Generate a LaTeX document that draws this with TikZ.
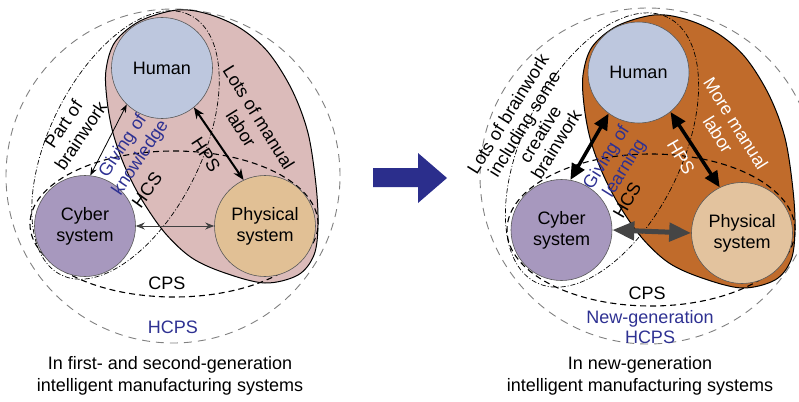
\documentclass[tikz,border=0pt]{standalone}
\usepackage{fontspec}
\setmainfont{Liberation Sans}
\usetikzlibrary{arrows.meta}
\definecolor{pinkfill}{HTML}{DBBBBA}
\definecolor{humfill}{HTML}{BDC7DE}
\definecolor{cybfill}{HTML}{A798BE}
\definecolor{phyfill}{HTML}{E1C095}
\definecolor{phyfillR}{HTML}{E3C39E}
\definecolor{orangefill}{HTML}{C06B2B}
\definecolor{labblue}{HTML}{2E3192}
\definecolor{arrowblue}{HTML}{2B2E8C}
\newcommand{\hpsshape}{plot[smooth cycle, tension=0.55] coordinates {(177,-10) (140,-21) (115,-42) (106,-70) (107,-100) (113,-133) (125,-167) (142,-200) (165,-233) (192,-258) (225,-273) (265,-283) (298,-275) (314,-255) (318,-225) (316,-185) (308,-133) (292,-90) (268,-52) (240,-28) (208,-14)}}
\tikzset{
  sys/.style={circle, draw=black!65, line width=0.6pt, minimum size=101pt, inner sep=0pt, align=center, font=\fontsize{18}{21}\selectfont},
  lbl/.style={font=\fontsize{18}{21}\selectfont, align=center, inner sep=0pt},
  hcpsline/.style={draw=gray, dash pattern=on 8pt off 6pt, line width=0.9pt},
  cpsline/.style={draw=black, dash pattern=on 6pt off 4pt, line width=1.1pt},
  hcsline/.style={draw=black, dash pattern=on 5pt off 2pt on 1pt off 2pt, line width=0.7pt},
  hpsline/.style={draw=black, line width=1pt},
  thinarrow/.style={line width=0.8pt, {Stealth[length=8pt,width=6pt]}-{Stealth[length=8pt,width=6pt]}},
  medarrow/.style={line width=2pt, {Stealth[length=11pt,width=9pt]}-{Stealth[length=11pt,width=9pt]}},
  cparrow/.style={draw=black!75, line width=0.9pt, {Stealth[length=9pt,width=7pt]}-{Stealth[length=9pt,width=7pt]}},
  bigarrow/.style={line width=3.5pt, {Triangle[length=16pt,width=14pt]}-{Triangle[length=16pt,width=14pt]}},
  cparrowb/.style={draw=black!73, line width=5pt, {Triangle[length=22pt,width=18pt]}-{Triangle[length=22pt,width=18pt]}},
}
\begin{document}
\begin{tikzpicture}[x=1pt,y=1pt]
\useasboundingbox (0,0) rectangle (799,-401);
\clip (0,0) rectangle (799,-401);
% ---------- left panel ----------
\draw[hcpsline] (173,-176) circle (167);
\draw[hpsline, fill=pinkfill] \hpsshape;
\draw[cpsline] (174,-224) ellipse [x radius=144, y radius=73];
\draw[hcsline, rotate around={63.6:(125.5,-145)}] (125.5,-145) ellipse [x radius=145, y radius=76];
\node[sys, fill=humfill] (hum) at (162,-68) {Human};
\node[sys, fill=cybfill] (cyb) at (85,-226) {Cyber\\system};
\node[sys, fill=phyfill] (phy) at (265,-226) {Physical\\system};
\draw[thinarrow] (cyb.84) -- (hum.226);
\draw[medarrow] (hum.309) -- (phy.115);
\draw[cparrow] (cyb.east) -- (phy.west);
\node[lbl, rotate=56] (lpb) at (72,-130) {Part of\\brainwork};
\node[lbl, rotate=56, text=labblue] (lgk) at (132,-152) {Giving of\\knowledge};
\node[lbl, rotate=54] (lhcs) at (147,-190) {HCS};
\node[lbl, rotate=-57] (lhps) at (206,-155) {HPS};
\node[lbl, rotate=-58] (llm) at (250,-123) {Lots of manual\\labor};
\node[lbl] (lcps) at (167,-283) {CPS};
\node[lbl, text=labblue] (lhcps) at (173,-327) {HCPS};
\node[lbl, font=\fontsize{18}{22}\selectfont] (lcap) at (170,-376) {In first- and second-generation\\intelligent manufacturing systems};
% ---------- middle arrow ----------
\fill[arrowblue] (373,-168) -- (418,-168) -- (418,-153) -- (447,-178) -- (418,-203) -- (418,-187) -- (373,-187) -- cycle;
% ---------- right panel ----------
\draw[hcpsline] (648,-176) circle (168);
\begin{scope}[shift={(477,-5)}]
\draw[hpsline, fill=orangefill] \hpsshape;
\end{scope}
\draw[cpsline] (651,-230) ellipse [x radius=144, y radius=76];
\draw[hcsline, rotate around={63.6:(602,-150)}] (602,-150) ellipse [x radius=148, y radius=79];
\node[sys, fill=humfill] (hum2) at (638.5,-72.5) {Human};
\node[sys, fill=cybfill] (cyb2) at (561.5,-230) {Cyber\\system};
\node[sys, fill=phyfillR] (phy2) at (742,-233) {Physical\\system};
\draw[bigarrow] (cyb2.80) -- (hum2.234);
\draw[bigarrow] (hum2.309) -- (phy2.116);
\draw[cparrowb] (cyb2.east) -- (phy2.west);
\node[lbl, rotate=58, font=\fontsize{18}{19}\selectfont] (rlb) at (532,-129) {Lots of brainwork\\including some\\creative\\brainwork};
\node[lbl, rotate=58, text=labblue] (rgl) at (616,-163) {Giving of\\learning};
\node[lbl, rotate=60] (rhcs) at (627,-200) {HCS};
\node[lbl, rotate=-60, text=white] (rhps) at (681,-157) {HPS};
\node[lbl, rotate=-58, text=white] (rmm) at (727,-129) {More manual\\labor};
\node[lbl] (rcps) at (647,-293) {CPS};
\node[lbl, text=labblue, font=\fontsize{18}{20}\selectfont] (rhcps) at (650,-327) {New-generation\\HCPS};
\node[lbl, font=\fontsize{18}{22}\selectfont] (rcap) at (640,-376) {In new-generation\\intelligent manufacturing systems};
\end{tikzpicture}
\end{document}
